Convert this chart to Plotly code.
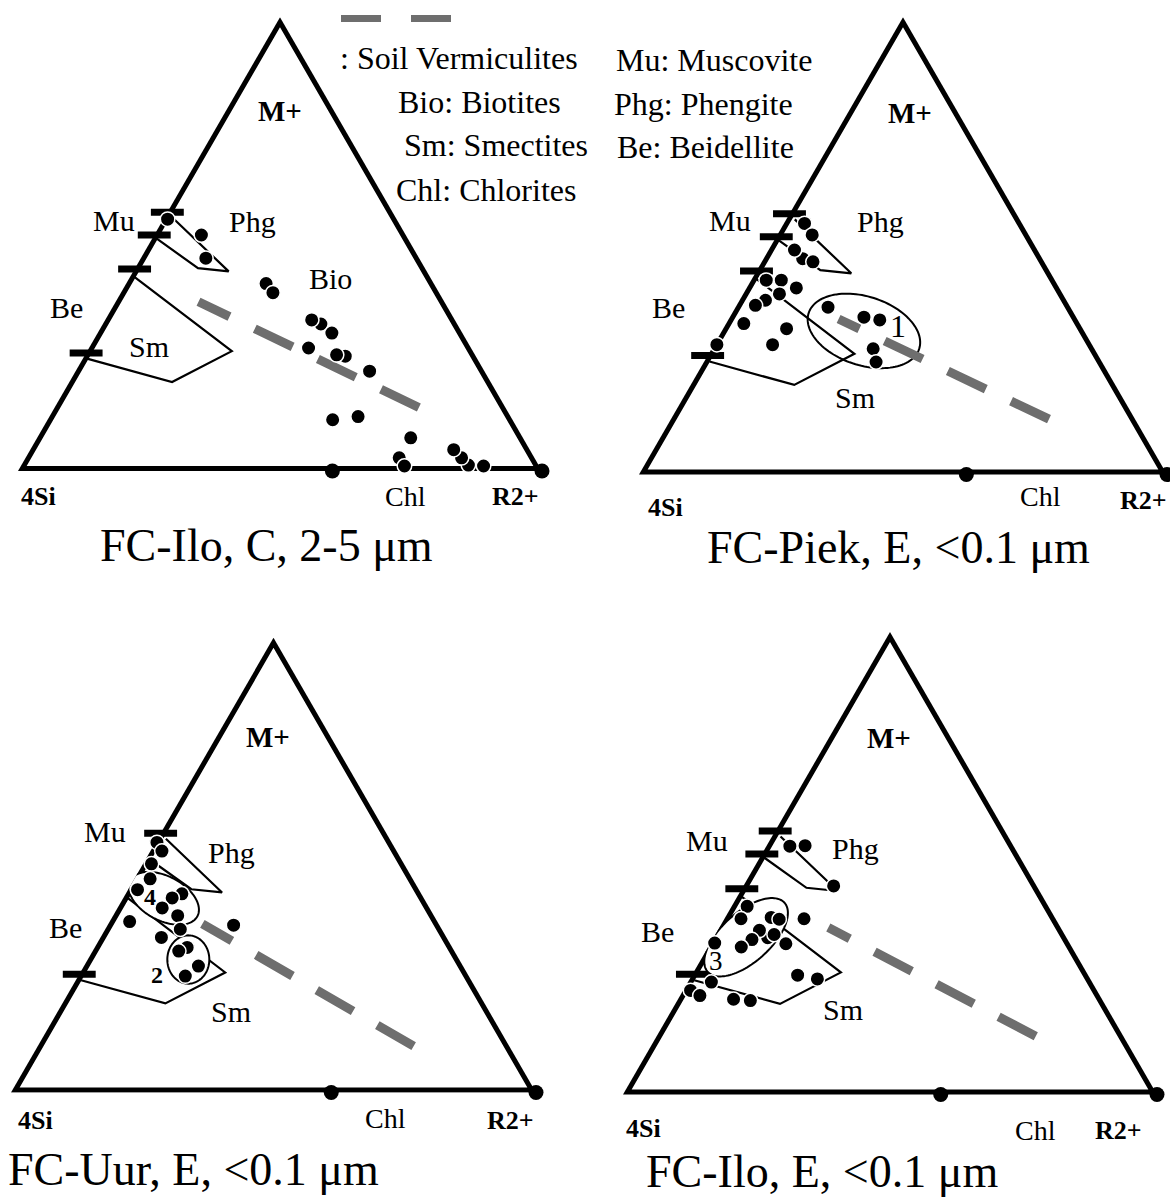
import numpy as np
import plotly.graph_objects as go

W, H = 1170, 1199
SERIF = "Liberation Serif, Times New Roman, serif"

# ---------------- data: compositions in % (M+ and R2+; 4Si = 100 - M+ - R2+) ----------------
# reference fields, identical in the four diagrams
TICK_MPLUS_ALL = [57.0, 52.0, 44.5, 26.0]      # Mu / Be limits on the 4Si - M+ side
TICK_MPLUS_UUR = [57.0, 26.0]
PHG_MPLUS = [55.8, 44.0, 44.7, 51.3]
PHG_R2 = [1.6, 18.2, 12.0, 0.7]
SM_MPLUS = [42.8, 26.4, 19.6, 24.7]
SM_R2 = [0.8, 27.6, 19.6, 1.0]

titles = ["FC-Ilo, C, 2-5 μm", "FC-Piek, E, &lt;0.1 μm", "FC-Uur, E, &lt;0.1 μm", "FC-Ilo, E, &lt;0.1 μm"]

# FC-Ilo, C, 2-5 um
ilo_c_mplus = [55.5, 52.0, 46.9, 41.3, 39.3, 32.4, 33.3, 30.4, 27.1, 25.3, 25.6, 22.0, 11.3, 12.0,
               7.3, 2.9, 1.1, 1.3, 2.9, 4.7, 1.1]
ilo_c_r2 = [0.8, 9.0, 12.4, 26.7, 29.0, 41.6, 39.4, 44.7, 41.9, 49.8, 48.0, 56.1, 54.4, 58.9,
            71.3, 71.3, 73.2, 85.3, 83.2, 80.8, 88.3]
ilo_c_chl = 60.0
ilo_c_verm_mplus = [14.0, 37.3]
ilo_c_verm_r2 = [69.5, 15.8]

# FC-Piek, E, <0.1 um
piek_mplus = [54.9, 52.4, 47.2, 49.1, 46.5, 42.5, 42.5, 39.5, 40.8, 38.1, 37.0, 33.0, 31.9, 36.6,
              34.4, 33.8, 28.4, 28.4, 27.5, 24.6]
piek_r2 = [3.9, 6.6, 7.4, 4.9, 9.7, 2.85, 5.7, 6.85, 9.4, 4.9, 3.55, 3.35, 12.0, 17.5,
           25.4, 28.7, 11.1, 0.55, 30.6, 32.6]
piek_chl = 62.0
piek_verm_mplus = [12.1, 34.0]
piek_verm_r2 = [71.6, 20.8]

# FC-Uur, E, <0.1 um
uur_mplus = [55.0, 53.1, 50.3, 47.0, 44.6, 43.7, 42.8, 40.6, 38.9, 35.9, 37.6, 34.1, 36.8, 31.9,
             31.1, 27.8, 25.6]
uur_r2 = [0.3, 2.2, 1.6, 3.0, 1.8, 10.7, 9.3, 8.5, 12.3, 14.3, 3.8, 11.6, 24.0, 17.6,
          16.4, 21.8, 20.4]
uur_chl = 61.0
uur_verm_mplus = [10.2, 37.1]
uur_verm_r2 = [71.6, 17.9]

# FC-Ilo, E, <0.1 um
ilo_e_mplus = [38.3, 37.9, 33.9, 34.6, 22.5, 53.7, 53.8, 45.1, 40.7, 38.0, 38.0, 35.5, 33.5, 31.9,
               32.6, 32.75, 25.8, 25.0, 24.3, 21.4, 20.6, 20.3]
ilo_e_r2 = [8.6, 10.3, 10.15, 11.0, 1.4, 4.4, 7.2, 16.9, 2.9, 3.1, 14.9, 7.8, 7.4, 6.2,
            14.2, 0.8, 19.8, 23.9, 4.4, 3.7, 10.4, 13.7]
ilo_e_chl = 59.5
ilo_e_verm_mplus = [12.6, 36.1]
ilo_e_verm_r2 = [71.0, 20.4]

# sample groups (centre M+, centre R2+, semi-axes in % of the base, tilt in degrees)
groups = {
    1: [("1", 31.4, 26.9, 11.0, 6.5, -18, False)],
    2: [("4", 42.7, 7.75, 7.25, 4.2, -28, True), ("2", 29.25, 19.15, 4.0, 4.6, 0, True)],
    3: [("3", 34.0, 6.05, 9.67, 4.65, 42, True)],
}

# ---------------- layout geometry (pixels): left vertex x, base width, base y ----------------
geom = [(18, 524, 471), (639, 528, 474.5), (11, 525, 1092.5), (623, 534, 1094.5)]

panels = [
    dict(m=ilo_c_mplus, r=ilo_c_r2, chl=ilo_c_chl, ticks=TICK_MPLUS_ALL, vm=ilo_c_verm_mplus, vr=ilo_c_verm_r2),
    dict(m=piek_mplus, r=piek_r2, chl=piek_chl, ticks=TICK_MPLUS_ALL, vm=piek_verm_mplus, vr=piek_verm_r2),
    dict(m=uur_mplus, r=uur_r2, chl=uur_chl, ticks=TICK_MPLUS_UUR, vm=uur_verm_mplus, vr=uur_verm_r2),
    dict(m=ilo_e_mplus, r=ilo_e_r2, chl=ilo_e_chl, ticks=TICK_MPLUS_ALL, vm=ilo_e_verm_mplus, vr=ilo_e_verm_r2),
]


def rest(a, c):
    return [100 - x - y for x, y in zip(a, c)]


def ellipse(m, r, rx, ry, ang, n=120):
    t = np.linspace(0, 2 * np.pi, n)
    th = np.radians(ang)
    x0, y0 = r + m / 2, m * np.sqrt(3) / 2
    X = x0 + rx * np.cos(t) * np.cos(th) - ry * np.sin(t) * np.sin(th)
    Y = y0 + rx * np.cos(t) * np.sin(th) + ry * np.sin(t) * np.cos(th)
    a = Y * 2 / np.sqrt(3)
    c = X - a / 2
    return a, 100 - a - c, c


GRAY = "#6e6e6e"
fig = go.Figure()
layout_tern = {}
for i, (p, (xl, w, yb)) in enumerate(zip(panels, geom)):
    sub = "ternary" if i == 0 else f"ternary{i + 1}"
    h = w * np.sqrt(3) / 2
    ax = dict(showline=False, showgrid=False, showticklabels=False, ticks="", title=dict(text=""))
    layout_tern[sub] = dict(domain=dict(x=[xl / W, (xl + w) / W], y=[(H - yb) / H, (H - yb + h) / H]),
                            sum=100, aaxis=ax, baxis=ax, caxis=ax, bgcolor="rgba(0,0,0,0)")
    common = dict(subplot=sub, showlegend=False, hoverinfo="skip", cliponaxis=False)
    # frame (clipped to the triangle, so half of the stroke shows)
    fig.add_trace(go.Scatterternary(a=[50, 0, 0, 100, 50], b=[50, 100, 0, 0, 50], c=[0, 0, 100, 0, 0],
                                    mode="lines", line=dict(color="black", width=10), **common))
    # fields
    for fm, fr in ((SM_MPLUS, SM_R2), (PHG_MPLUS, PHG_R2)):
        fig.add_trace(go.Scatterternary(a=fm, b=rest(fm, fr), c=fr, mode="lines",
                                        line=dict(color="black", width=2.2), **common))
    fig.add_trace(go.Scatterternary(a=p["ticks"], b=[100 - v for v in p["ticks"]], c=[0] * len(p["ticks"]),
                                    mode="markers",
                                    marker=dict(symbol="line-ew", size=23.5,
                                                line=dict(color="black", width=7)), **common))
    # groups
    for lab, gm, gr, rx, ry, ang, filled in groups.get(i, []):
        ea, eb, ec = ellipse(gm, gr, rx, ry, ang)
        fig.add_trace(go.Scatterternary(a=ea, b=eb, c=ec, mode="lines",
                                        line=dict(color="black", width=2),
                                        fill="toself" if filled else "none", fillcolor="white", **common))
    # soil vermiculites trend
    fig.add_trace(go.Scatterternary(a=p["vm"], b=rest(p["vm"], p["vr"]), c=p["vr"], mode="lines",
                                    line=dict(color=GRAY, width=9, dash="42px,28px"), **common))
    # analyses
    fig.add_trace(go.Scatterternary(a=p["m"], b=rest(p["m"], p["r"]), c=p["r"], mode="markers",
                                    marker=dict(symbol="circle", size=14.5, color="black",
                                                line=dict(color="white", width=1.5)), **common))
    # chlorite and R2+ end-members
    fig.add_trace(go.Scatterternary(a=[0, 0], b=[100 - p["chl"], 0], c=[p["chl"], 100], mode="markers",
                                    marker=dict(symbol="circle", size=15, color="black"), **common))


def T(text, x, y, size=30, bold=False, anchor="center"):
    return dict(text=f"<b>{text}</b>" if bold else text, x=x / W, y=1 - y / H, xref="paper", yref="paper",
                showarrow=False, xanchor=anchor, yanchor="middle",
                font=dict(family=SERIF, size=size, color="black"))


ann = []
# legend text
for txt, x, y in [(": Soil Vermiculites", 338, 58), ("Bio: Biotites", 396, 102), ("Sm: Smectites", 402, 145),
                  ("Chl: Chlorites", 394, 190), ("Mu: Muscovite", 614, 60), ("Phg: Phengite", 612, 104),
                  ("Be: Beidellite", 615, 147)]:
    ann.append(T(txt, x, y, 32, anchor="left"))

labels = [
    # top-left
    ("M+", 280, 111, 29, True), ("Mu", 114, 221, 30, False), ("Phg", 252, 222, 30, False),
    ("Bio", 330, 278, 30, False), ("Be", 66, 307, 30, False), ("Sm", 149, 347, 30, False),
    ("4Si", 38, 497, 26, True), ("Chl", 405, 497, 28, False), ("R2+", 515, 497, 26, True),
    # top-right
    ("M+", 910, 113, 29, True), ("Mu", 730, 220, 30, False), ("Phg", 880, 222, 30, False),
    ("Be", 668, 307, 30, False), ("Sm", 855, 397, 30, False), ("1", 898, 326, 32, False),
    ("4Si", 665, 508, 26, True), ("Chl", 1040, 497, 28, False), ("R2+", 1143, 500, 26, True),
    # bottom-left
    ("M+", 268, 737, 29, True), ("Mu", 105, 831, 30, False), ("Phg", 231, 852, 30, False),
    ("Be", 65, 927, 30, False), ("4", 150, 897, 24, True), ("2", 157, 975, 24, True),
    ("Sm", 231, 1011, 30, False),
    ("4Si", 35, 1120, 26, True), ("Chl", 385, 1118, 28, False), ("R2+", 510, 1120, 26, True),
    # bottom-right
    ("M+", 889, 738, 29, True), ("Mu", 707, 840, 30, False), ("Phg", 855, 848, 30, False),
    ("Be", 657, 932, 30, False), ("3", 716, 961, 27, False), ("Sm", 843, 1009, 30, False),
    ("4Si", 643, 1128, 26, True), ("Chl", 1035, 1130, 28, False), ("R2+", 1118, 1130, 26, True),
]
for txt, x, y, s, b in labels:
    ann.append(T(txt, x, y, s, b))

for txt, (x, y) in zip(titles, [(266, 545), (898, 547), (193, 1169), (822, 1171)]):
    ann.append(T(txt, x, y, 46))

shapes = [dict(type="line", xref="paper", yref="paper", x0=341 / W, x1=451 / W, y0=1 - 18.5 / H, y1=1 - 18.5 / H,
               line=dict(color=GRAY, width=7, dash="40px,30px"))]

fig.update_layout(width=W, height=H, autosize=False, margin=dict(l=0, r=0, t=0, b=0),
                  paper_bgcolor="white", plot_bgcolor="white", showlegend=False,
                  annotations=ann, shapes=shapes, **layout_tern)

fig.write_html("out.html", config={"displayModeBar": False},
               post_script="document.body.style.margin='0px';document.body.style.overflow='hidden';")
